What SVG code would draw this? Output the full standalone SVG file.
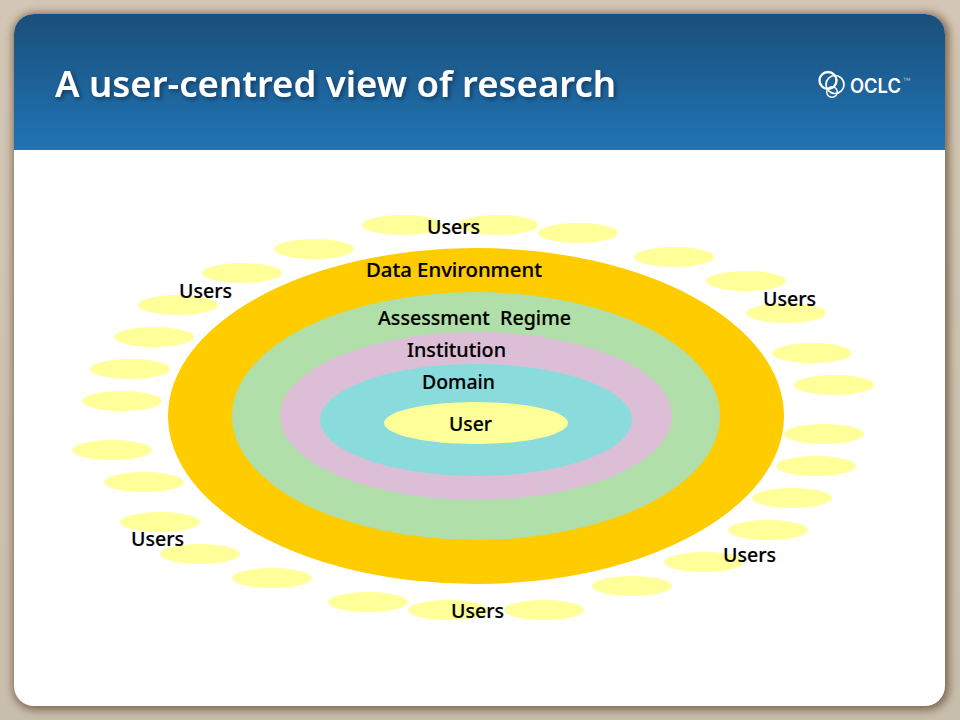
<svg xmlns="http://www.w3.org/2000/svg" width="960" height="720" viewBox="0 0 960 720">
<style>
.sat{fill:#ffff99}
.lbl{font-family:"Noto Sans","DejaVu Sans",sans-serif;font-size:19.5px;font-weight:500;fill:#000;stroke:#000;stroke-width:.2px}
</style>
<defs>
<linearGradient id="hdr" x1="0" y1="0" x2="0" y2="1"><stop offset="0" stop-color="#1a4f7a"/><stop offset="1" stop-color="#2074b5"/></linearGradient>
<linearGradient id="bg" x1="0" y1="0" x2="0" y2="1"><stop offset="0" stop-color="#d3c6b4"/><stop offset="1" stop-color="#c8beac"/></linearGradient>
<filter id="sh" x="-5%" y="-5%" width="110%" height="110%"><feGaussianBlur stdDeviation="4"/></filter>
<filter id="ts" x="-5%" y="-20%" width="110%" height="150%"><feDropShadow dx="2" dy="2" stdDeviation="2" flood-color="#0a2a45" flood-opacity="0.7"/></filter>
<clipPath id="panel"><rect x="14" y="14" width="931" height="692" rx="20"/></clipPath>
</defs>
<rect width="960" height="720" fill="url(#bg)"/>
<rect x="13" y="13" width="936" height="697" rx="22" fill="#6b5138" opacity="0.8" filter="url(#sh)"/>
<rect x="14" y="14" width="931" height="692" rx="20" fill="#fff"/>
<rect x="14" y="14" width="931" height="136" fill="url(#hdr)" clip-path="url(#panel)"/>
<text x="55" y="97" font-family="'Noto Sans','DejaVu Sans',sans-serif" font-size="36" font-weight="600" fill="#fff" textLength="561" lengthAdjust="spacingAndGlyphs" filter="url(#ts)">A user-centred view of research</text>
<g id="logo" fill="none" stroke="#fff">
<circle cx="828" cy="80.5" r="8.5" stroke-width="2.4"/>
<circle cx="835" cy="84.5" r="9" stroke-width="1.7"/>
<circle cx="832" cy="92" r="5.3" stroke-width="1.5"/>
<text x="850" y="93" font-family="Inter,'Liberation Sans',sans-serif" font-size="19.5" font-weight="600" fill="#fff" stroke="none" textLength="51" lengthAdjust="spacingAndGlyphs">OCLC</text>
<text x="902.5" y="83" font-family="'Liberation Sans',sans-serif" font-size="8" fill="#9fc0da" stroke="none">™</text>
</g>
<g id="node-users-ring">
<ellipse class="sat" cx="402" cy="225" rx="40" ry="10"/>
<ellipse class="sat" cx="498" cy="225" rx="40" ry="10"/>
<ellipse class="sat" cx="578" cy="233" rx="40" ry="10"/>
<ellipse class="sat" cx="314" cy="249" rx="40" ry="10"/>
<ellipse class="sat" cx="242" cy="273" rx="40" ry="10"/>
<ellipse class="sat" cx="674" cy="257" rx="40" ry="10"/>
<ellipse class="sat" cx="746" cy="281" rx="40" ry="10"/>
<ellipse class="sat" cx="178" cy="305" rx="40" ry="10"/>
<ellipse class="sat" cx="786" cy="313" rx="40" ry="10"/>
<ellipse class="sat" cx="154" cy="337" rx="40" ry="10"/>
<ellipse class="sat" cx="812" cy="353" rx="40" ry="10"/>
<ellipse class="sat" cx="130" cy="369" rx="40" ry="10"/>
<ellipse class="sat" cx="834" cy="385" rx="40" ry="10"/>
<ellipse class="sat" cx="122" cy="401" rx="40" ry="10"/>
<ellipse class="sat" cx="824" cy="434" rx="40" ry="10"/>
<ellipse class="sat" cx="112" cy="450" rx="40" ry="10"/>
<ellipse class="sat" cx="816" cy="466" rx="40" ry="10"/>
<ellipse class="sat" cx="144" cy="482" rx="40" ry="10"/>
<ellipse class="sat" cx="792" cy="498" rx="40" ry="10"/>
<ellipse class="sat" cx="160" cy="522" rx="40" ry="10"/>
<ellipse class="sat" cx="768" cy="530" rx="40" ry="10"/>
<ellipse class="sat" cx="200" cy="554" rx="40" ry="10"/>
<ellipse class="sat" cx="704" cy="562" rx="40" ry="10"/>
<ellipse class="sat" cx="272" cy="578" rx="40" ry="10"/>
<ellipse class="sat" cx="632" cy="586" rx="40" ry="10"/>
<ellipse class="sat" cx="368" cy="602" rx="40" ry="10"/>
<ellipse class="sat" cx="448" cy="610" rx="40" ry="10"/>
<ellipse class="sat" cx="544" cy="610" rx="40" ry="10"/>
</g>
<g id="node-data-environment"><ellipse cx="476" cy="416" rx="308" ry="168" fill="#ffcc00"/><text class="lbl" x="366" y="277" textLength="176" lengthAdjust="spacingAndGlyphs">Data Environment</text></g>
<g id="node-assessment-regime"><ellipse cx="476" cy="416" rx="244" ry="124" fill="#b0dfa9"/><text class="lbl" x="378" y="324.5" xml:space="preserve" textLength="193" lengthAdjust="spacingAndGlyphs">Assessment  Regime</text></g>
<g id="node-institution"><ellipse cx="476" cy="416" rx="196" ry="84" fill="#dcbfd6"/><text class="lbl" x="407" y="356.5" textLength="99" lengthAdjust="spacingAndGlyphs">Institution</text></g>
<g id="node-domain"><ellipse cx="476" cy="420" rx="156" ry="56" fill="#8adcdc"/><text class="lbl" x="422" y="388.5" textLength="73" lengthAdjust="spacingAndGlyphs">Domain</text></g>
<g id="node-user"><ellipse cx="476" cy="423" rx="92" ry="21" fill="#ffff99"/><text class="lbl" x="449" y="430.5" textLength="43" lengthAdjust="spacingAndGlyphs">User</text></g>
<g id="users-labels">
<text class="lbl" x="427" y="233.5" textLength="53" lengthAdjust="spacingAndGlyphs">Users</text>
<text class="lbl" x="179" y="297.5" textLength="53" lengthAdjust="spacingAndGlyphs">Users</text>
<text class="lbl" x="763" y="305.5" textLength="53" lengthAdjust="spacingAndGlyphs">Users</text>
<text class="lbl" x="131" y="545.5" textLength="53" lengthAdjust="spacingAndGlyphs">Users</text>
<text class="lbl" x="723" y="561.5" textLength="53" lengthAdjust="spacingAndGlyphs">Users</text>
<text class="lbl" x="451" y="617.5" textLength="53" lengthAdjust="spacingAndGlyphs">Users</text>
</g>
<g id="connectors"/>
</svg>
